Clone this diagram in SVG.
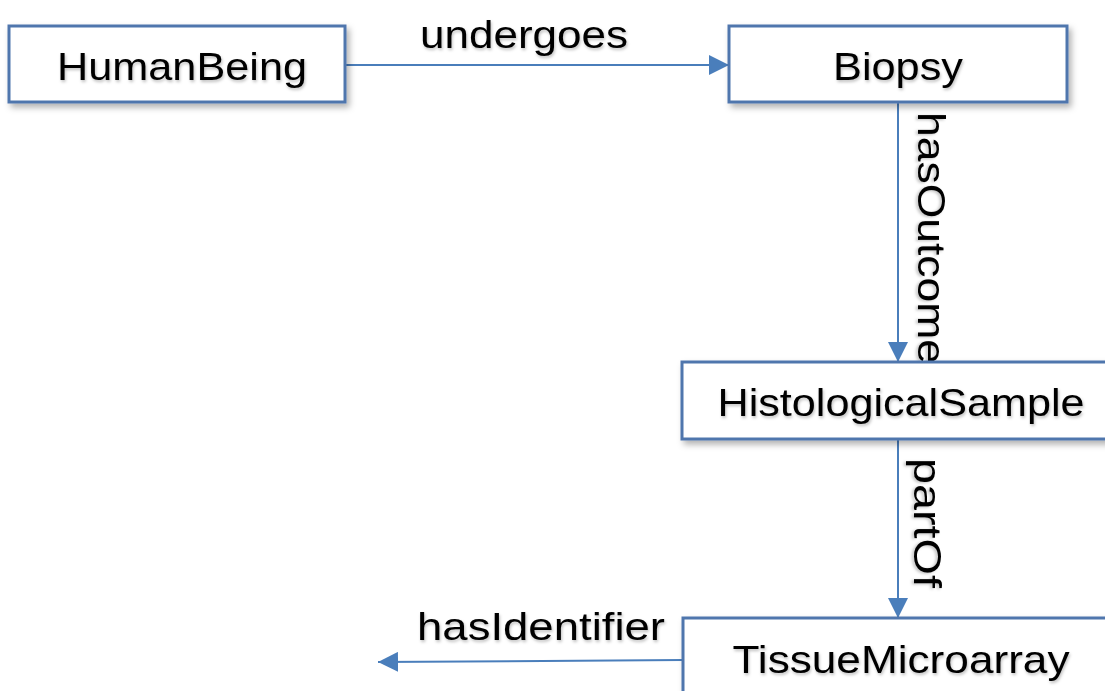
<svg xmlns="http://www.w3.org/2000/svg" width="1105" height="691" viewBox="0 0 1105 691">
<style>
.box{fill:#ffffff;stroke:#4f76ad;stroke-width:3;filter:url(#sh)}
.lbl{font-family:"Liberation Sans",Arial,sans-serif;font-size:39px;fill:#000;text-anchor:middle;filter:url(#tsh)}
.edge{stroke:#4a7ebb;stroke-width:2;fill:none;marker-end:url(#arr)}
</style>
<defs>
<filter id="sh" x="-10%" y="-20%" width="130%" height="150%">
<feDropShadow dx="3" dy="4" stdDeviation="3" flood-color="#000" flood-opacity="0.3"/>
</filter>
<filter id="tsh" x="-10%" y="-20%" width="130%" height="150%">
<feDropShadow dx="1" dy="2" stdDeviation="1.5" flood-color="#000" flood-opacity="0.25"/>
</filter>
<marker id="arr" viewBox="0 0 10 10" refX="10" refY="5" markerWidth="8" markerHeight="8" markerUnits="userSpaceOnUse" orient="auto">
<path d="M0,0 L10,5 L0,10 z" fill="#4a7ebb"/>
</marker>
<marker id="arr2" viewBox="0 0 10 10" refX="10" refY="5" markerWidth="10" markerHeight="10" orient="auto">
<path d="M0,0 L10,5 L0,10 z" fill="#4a7ebb"/>
</marker>
</defs>
<g id="connectors">
<line class="edge" x1="345" y1="65" x2="729" y2="65" style="marker-end:url(#arr2)"/>
<line class="edge" x1="898" y1="102" x2="898" y2="362" style="marker-end:url(#arr2)"/>
<line class="edge" x1="898" y1="439" x2="898" y2="618" style="marker-end:url(#arr2)"/>
<line class="edge" x1="683" y1="660" x2="378" y2="662" style="marker-end:url(#arr2)"/>
<text class="lbl" x="524" y="48" textLength="208" lengthAdjust="spacingAndGlyphs">undergoes</text>
<text class="lbl" transform="translate(918,238) rotate(90)" textLength="252" lengthAdjust="spacingAndGlyphs">hasOutcome</text>
<text class="lbl" transform="translate(914,523) rotate(90)" textLength="130" lengthAdjust="spacingAndGlyphs">partOf</text>
<text class="lbl" x="541" y="640" textLength="248" lengthAdjust="spacingAndGlyphs">hasIdentifier</text>
</g>
<g id="HumanBeing">
<rect class="box" x="9" y="26" width="336" height="76"/>
<text class="lbl" x="182" y="80" textLength="250" lengthAdjust="spacingAndGlyphs">HumanBeing</text>
</g>
<g id="Biopsy">
<rect class="box" x="729" y="26" width="338" height="76"/>
<text class="lbl" x="898" y="80" textLength="130" lengthAdjust="spacingAndGlyphs">Biopsy</text>
</g>
<g id="HistologicalSample">
<rect class="box" x="682" y="362" width="440" height="77"/>
<text class="lbl" x="901" y="416" textLength="367" lengthAdjust="spacingAndGlyphs">HistologicalSample</text>
</g>
<g id="TissueMicroarray">
<rect class="box" x="683" y="618" width="440" height="100"/>
<text class="lbl" x="901" y="673" textLength="337" lengthAdjust="spacingAndGlyphs">TissueMicroarray</text>
</g>
</svg>
